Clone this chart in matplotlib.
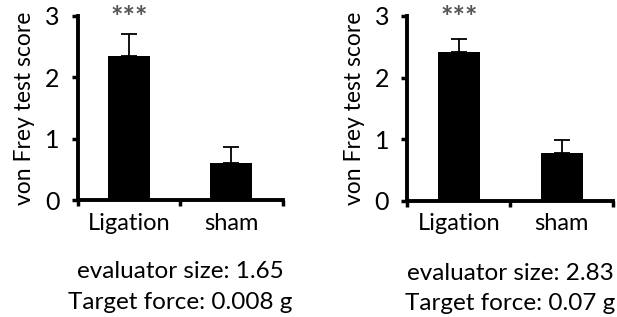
import matplotlib
matplotlib.use('Agg')
import matplotlib.pyplot as plt

groups = ['Ligation', 'sham']
score_a = [2.35, 0.60]
err_a = [0.36, 0.27]
score_b = [2.42, 0.78]
err_b = [0.21, 0.21]
notes_a = ['evaluator size: 1.65', 'Target force: 0.008 g']
notes_b = ['evaluator size: 2.83', 'Target force: 0.07 g']
stars = '***'

plt.rcParams['font.family'] = ['Lato', 'DejaVu Sans']

fig = plt.figure(figsize=(6.17, 3.17), dpi=100)
ax1 = fig.add_axes([0.126, 0.369, 0.332, 0.581])
ax2 = fig.add_axes([0.660, 0.366, 0.334, 0.584])


def panel(ax, vals, errs, notes):
    x = range(len(vals))
    ax.bar(x, vals, width=0.41, color='black', zorder=2)
    ax.errorbar(x, vals, yerr=[[0] * len(errs), errs], fmt='none',
                ecolor='black', elinewidth=1.3, capsize=6, capthick=1.3, zorder=1)
    ax.set_xlim(-0.5, 1.5)
    ax.set_ylim(0, 3)
    ax.set_yticks([0, 1, 2, 3])
    ax.set_xticks([-0.5, 0.5, 1.5])
    ax.set_xticklabels([])
    ax.set_xticks(list(x), minor=True)
    ax.set_xticklabels(groups, minor=True, fontsize=17)
    ax.tick_params(axis='x', which='minor', length=0, pad=9)
    ax.tick_params(axis='both', which='major', direction='out', length=4, width=2.5,
                   labelsize=18)
    ax.tick_params(axis='y', pad=9)
    for side in ('top', 'right'):
        ax.spines[side].set_visible(False)
    for side in ('left', 'bottom'):
        ax.spines[side].set_linewidth(2.8)
    ax.set_ylabel('von Frey test score', fontsize=16.5, labelpad=7)
    ax.text(0, 2.84, stars, ha='center', va='baseline', color='#555555', fontsize=21,
            fontweight='bold', transform=ax.transData)
    ax.text(0.5, -0.39, notes[0], ha='center', va='center', fontsize=17.5,
            transform=ax.transAxes)
    ax.text(0.5, -0.555, notes[1], ha='center', va='center', fontsize=17.5,
            transform=ax.transAxes)


panel(ax1, score_a, err_a, notes_a)
panel(ax2, score_b, err_b, notes_b)

fig.savefig('out.png', dpi=100)
